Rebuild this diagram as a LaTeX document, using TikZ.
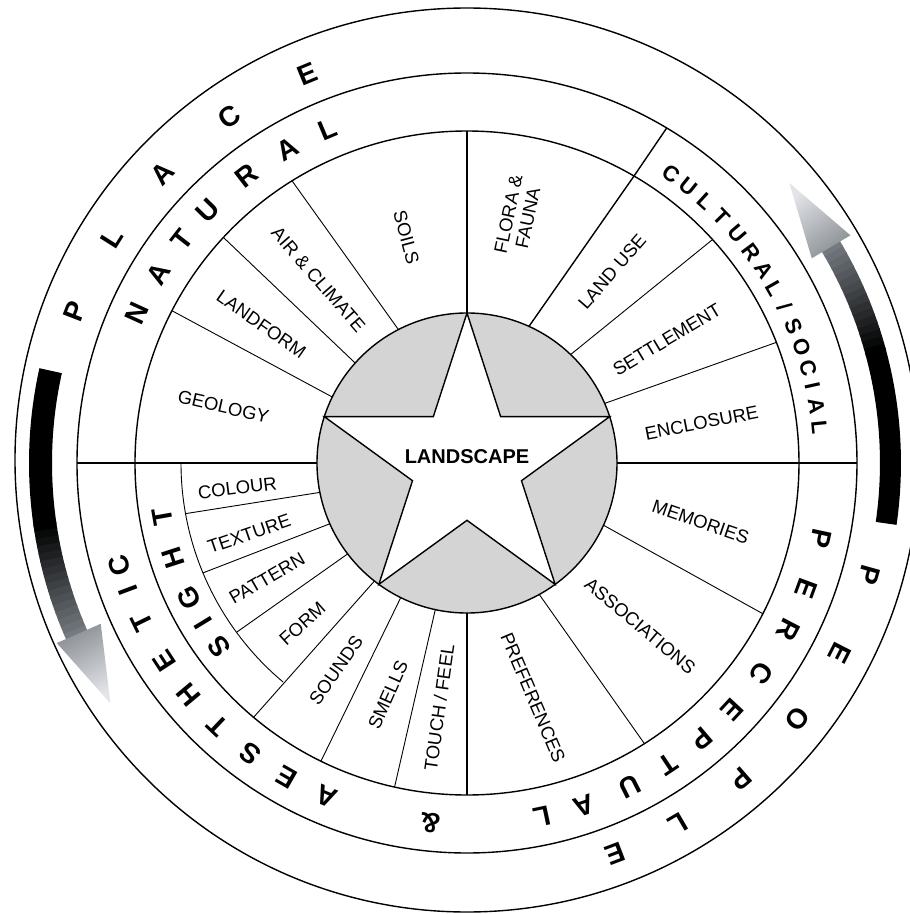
\documentclass[tikz,border=0pt]{standalone}
\usepackage{fontspec}
\setmainfont{Liberation Sans}
\usetikzlibrary{calc}

\definecolor{hubgray}{RGB}{212,212,212}
\definecolor{arrowmid}{RGB}{118,124,130}
\definecolor{arrowlight}{RGB}{226,228,231}

\begin{document}
\begin{tikzpicture}[
        x=1pt, y=1pt,
        ring/.style={draw=black, line width=1.4pt},
        divider/.style={draw=black, line width=0.9pt},
        label/.style={font=\fontsize{18.5}{20}\selectfont, inner sep=0pt, align=center},
        bigletter/.style={font=\bfseries\fontsize{28}{28}\selectfont, inner sep=0pt},
        smallletter/.style={font=\bfseries\fontsize{22}{22}\selectfont, inner sep=0pt}
    ]
    \useasboundingbox (-467,-451) rectangle (443,463);

    % rings
    \draw[ring] (0,3) circle (452);
    \draw[ring] (0,0) circle (390);
    \draw[ring] (0,0) circle (332);
    \draw[divider] (180:286) arc (180:230:286);
    \filldraw[ring, fill=hubgray] (0,0) circle (150);
    \filldraw[ring, fill=white] (90:150) -- (126:57.3) -- (162:150) -- (198:57.3) -- (234:150)
        -- (270:57.3) -- (306:150) -- (342:57.3) -- (18:150) -- (54:57.3) -- cycle;

    % main dividers
    \draw[ring, line width=1.7pt] (180:390) -- (180:150);
    \draw[ring, line width=1.7pt] (0:150) -- (0:390);
    \draw[ring] (90:150) -- (90:332);
    \draw[ring] (270:150) -- (270:332);
    \draw[ring] (65.6:150) -- (59.8:332) -- (59.2:390);
    \foreach \a/\b/\r in {153.9/152.7/332, 138.2/137.2/332, 117.2/121.8/332, 46.3/42.3/332,
        23.4/21.3/332, -24.5/-27/332, -61.2/-57.7/332, 257.8/257.4/332, 243.8/243.9/332,
        231.9/230/332, 217.3/216.3/286, 203.9/202.6/286, 191.3/190.2/286}
        \draw[divider] (\a:150) -- (\b:\r);

    % segment labels
    \node (landscape) at (0,6) [font=\bfseries\fontsize{20}{20}\selectfont] {LANDSCAPE};
    \node (geology) at (167:250) [label, rotate=-13] {GEOLOGY};
    \node (landform) at (146:248) [label, rotate=-35] {LANDFORM};
    \node (air) at (129:236) [label, rotate=-49] {AIR \& CLIMATE};
    \node (soils) at (105:234) [label, rotate=-75] {SOILS};
    \node (flora) at (78.3:252) [label, rotate=78] {FLORA \&\\FAUNA};
    \node (landuse) at (52.8:240) [label, rotate=49] {LAND USE};
    \node (settlement) at (31.7:235) [label, rotate=31] {SETTLEMENT};
    \node (enclosure) at (9.7:238) [label, rotate=11] {ENCLOSURE};
    \node (memories) at (-14.2:241) [label, rotate=-19] {MEMORIES};
    \node (associations) at (-43.3:238) [label, rotate=-40] {ASSOCIATIONS};
    \node (preferences) at (-74.3:244) [label, rotate=-67] {PREFERENCES};
    \node (touch) at (263.5:246) [label, rotate=82] {TOUCH / FEEL};
    \node (smells) at (251.2:245) [label, rotate=66] {SMELLS};
    \node (sounds) at (237.7:245) [label, rotate=55] {SOUNDS};
    \node (form) at (224.3:230) [label, rotate=42] {FORM};
    \node (pattern) at (210:231) [label, rotate=30] {PATTERN};
    \node (texture) at (198:229) [label, rotate=19] {TEXTURE};
    \node (colour) at (186.2:231) [label, rotate=7] {COLOUR};

    % lettering round the rings
    \foreach \ch/\ang [count=\i] in {P/158.9, L/147.7, A/136.5, C/124.4, E/112.3}
        \node (place-\i) at (\ang:420) [bigletter, rotate=\ang-90] {\ch};
    \foreach \ch/\ang [count=\i] in {N/155.6, A/148.5, T/142, U/135.7, R/127.5, A/119.8, L/112.7}
        \node (natural-\i) at (\ang:362) [bigletter, rotate=\ang-90] {\ch};
    \foreach \ch/\ang [count=\i] in {C/54.8, U/51.2, L/47.6, T/44, U/40.3, R/36.6, A/33, L/29.6,
        \slash/26.1, S/22.7, O/19.1, C/15.6, I/12.6, A/9.2, L/5.7}
        \node (cultural-\i) at (\ang:354) [smallletter, rotate=\ang-90] {\ch};
    \foreach \ch/\ang [count=\i] in {P/-12.1, E/-20.3, R/-27.4, C/-35.5, E/-42.9, P/-49.6, T/-56.3,
        U/-63.2, A/-71.1, L/-78, \&/-95.8, A/-112.9, E/-119.8, S/-126.7, T/-133.6, H/-140.2,
        E/-146.8, T/-153.9, I/-159.5, C/-163.6}
        \node (perceptual-\i) at (\ang:362) [bigletter, rotate=\ang-90] {\ch};
    \foreach \ch/\ang [count=\i] in {S/216.6, I/211.3, G/205.8, H/197.9, T/190}
        \node (sight-\i) at (\ang:309) [bigletter, rotate=\ang-90] {\ch};
    \foreach \ch/\ang [count=\i] in {P/-15.6, E/-27, O/-37.8, P/-49, L/-59.7, E/-69.2}
        \node (people-\i) at (\ang:418) [bigletter, rotate=\ang-90] {\ch};

    % arrows
    \fill[black] (167.5:415) arc (167.5:188.5:415) -- (188.5:438) arc (188.5:167.5:438) -- cycle;
    \foreach \k in {0,...,15} {
        \pgfmathtruncatemacro\p{100-\k*6.5}
        \pgfmathsetmacro\s{188+\k}
        \fill[black!\p!arrowmid] (\s:415) arc (\s:\s+1.15:415) -- (\s+1.15:438) arc (\s+1.15:\s:438) -- cycle;
    }
    \shade[top color=arrowmid!85!white, bottom color=arrowlight, shading angle=29]
        (203.7:400) -- (214:430) -- (203.7:448) -- cycle;

    \fill[black] (-8.2:413) arc (-8.2:15.5:413) -- (15.5:434) arc (15.5:-8.2:434) -- cycle;
    \foreach \k in {0,...,15} {
        \pgfmathtruncatemacro\p{100-\k*6.5}
        \pgfmathsetmacro\s{15+\k}
        \fill[black!\p!arrowmid] (\s:413) arc (\s:\s+1.15:413) -- (\s+1.15:434) arc (\s+1.15:\s:434) -- cycle;
    }
    \shade[top color=arrowmid!85!white, bottom color=arrowlight, shading angle=216]
        (30.7:401) -- (41:427) -- (30.7:446) -- cycle;
\end{tikzpicture}
\end{document}
